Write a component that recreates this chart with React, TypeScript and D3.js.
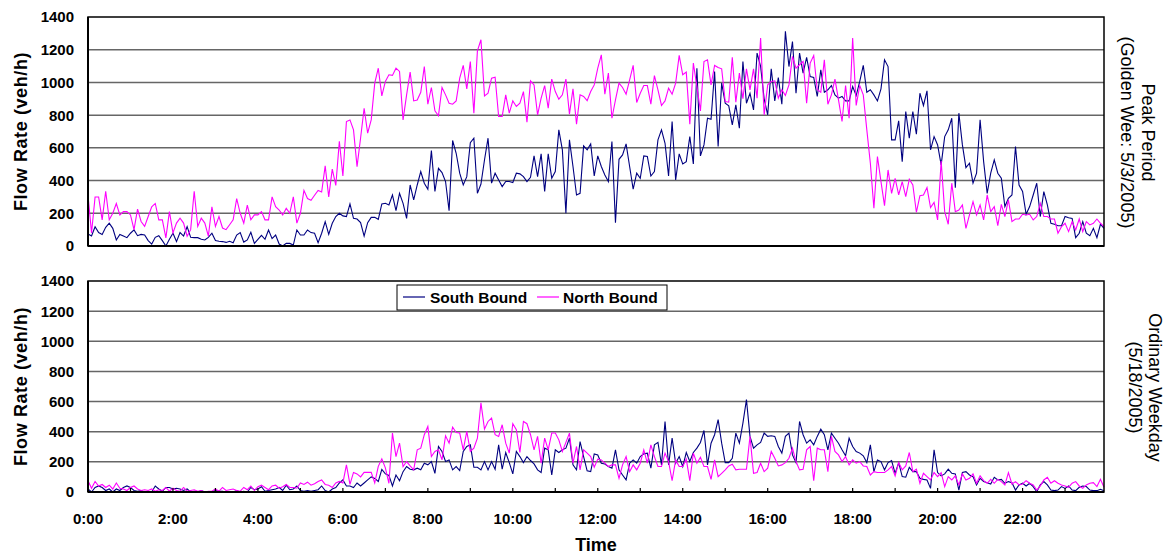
import React from 'react';
import * as d3 from 'd3';

// 5-minute counts, 12 values per hour (0:00 .. 23:55)
const peakSouth = [
  73, 61, 118, 82, 71, 114, 139, 108, 37, 71, 61, 51,
  78, 98, 63, 71, 67, 33, 12, 53, 63, 33, 0, 41,
  78, 27, 82, 61, 118, 53, 51, 51, 41, 37, 53, 78,
  33, 29, 27, 22, 29, 20, 67, 82, 24, 37, 84, 16,
  41, 65, 41, 98, 45, 67, 12, 0, 16, 16, 6, 98,
  67, 67, 98, 82, 78, 20, 78, 149, 71, 139, 180, 200,
  184, 180, 257, 169, 165, 143, 61, 143, 175, 175, 163, 257,
  261, 251, 312, 216, 322, 261, 169, 373, 282, 373, 455, 384,
  347, 583, 333, 475, 449, 394, 216, 645, 567, 445, 373, 424,
  632, 659, 322, 379, 526, 659, 384, 445, 404, 363, 394, 394,
  388, 445, 441, 424, 394, 420, 551, 424, 563, 333, 563, 414,
  455, 710, 588, 200, 649, 486, 312, 322, 612, 588, 624, 428,
  551, 486, 434, 394, 639, 143, 530, 557, 624, 486, 347, 445,
  414, 551, 547, 428, 455, 649, 710, 628, 428, 761, 404, 563,
  502, 516, 669, 502, 1087, 551, 618, 781, 775, 1067, 608, 996,
  873, 857, 741, 863, 720, 1128, 873, 934, 832, 1179, 1098, 900,
  802, 1083, 887, 1030, 867, 1312, 1097, 1250, 934, 1179, 1057, 1153,
  1036, 1030, 914, 1077, 940, 955, 981, 924, 904, 914, 887, 887,
  975, 920, 1006, 1104, 940, 955, 924, 887, 961, 1138, 1097, 649,
  649, 765, 516, 822, 659, 822, 683, 934, 859, 949, 588, 669,
  618, 496, 669, 710, 781, 357, 812, 618, 479, 506, 384, 445,
  771, 516, 322, 445, 526, 445, 414, 241, 292, 312, 608, 373,
  333, 194, 241, 312, 384, 180, 333, 251, 139, 133, 124, 124,
  180, 173, 169, 51, 78, 149, 78, 63, 108, 51, 133, 108,
];

const peakNorth = [
  310, 80, 300, 300, 160, 335, 160, 200, 260, 190, 210, 210,
  190, 100, 225, 150, 120, 180, 240, 260, 160, 160, 50, 210,
  80, 140, 170, 140, 60, 100, 335, 120, 170, 140, 60, 240,
  120, 180, 110, 100, 130, 160, 290, 200, 140, 250, 160, 190,
  190, 210, 160, 160, 300, 240, 220, 190, 230, 200, 300, 140,
  200, 340, 290, 280, 310, 340, 330, 490, 300, 470, 370, 640,
  428, 761, 771, 710, 485, 660, 842, 690, 771, 996, 1087, 918,
  1006, 1047, 1043, 1087, 1067, 771, 924, 1063, 887, 893, 940, 1097,
  867, 969, 826, 796, 969, 924, 873, 867, 887, 1026, 1104, 961,
  1128, 812, 1193, 1261, 918, 934, 1026, 1032, 792, 792, 924, 812,
  887, 853, 873, 944, 757, 1010, 985, 802, 904, 981, 843, 1020,
  944, 898, 924, 1020, 806, 961, 745, 924, 914, 889, 944, 985,
  1087, 1169, 928, 1057, 781, 893, 996, 969, 928, 1016, 1104, 877,
  934, 981, 981, 867, 1042, 955, 859, 887, 965, 928, 996, 1165,
  1047, 1063, 745, 1118, 975, 826, 1128, 1138, 985, 1104, 1091, 1083,
  883, 879, 1153, 879, 1057, 900, 1083, 955, 1083, 904, 1271, 802,
  985, 1006, 1010, 904, 955, 920, 985, 1159, 1087, 1108, 1128, 873,
  1118, 1165, 955, 940, 1138, 867, 924, 1020, 893, 761, 981, 781,
  1271, 859, 981, 924, 710, 506, 231, 547, 394, 247, 465, 322,
  414, 312, 394, 302, 408, 373, 206, 308, 312, 357, 235, 267,
  159, 520, 210, 133, 384, 210, 220, 251, 108, 190, 271, 190,
  251, 159, 312, 210, 241, 124, 255, 180, 282, 149, 165, 165,
  194, 190, 194, 159, 180, 261, 180, 180, 165, 165, 78, 118,
  139, 88, 149, 98, 165, 88, 149, 129, 139, 165, 139, 118,
];

const weekdaySouth = [
  20, 0, 30, 40, 30, 10, 20, 0, 20, 10, 30, 40,
  30, 10, 5, 10, 0, 5, 0, 40, 20, 5, 30, 30,
  20, 25, 20, 10, 20, 0, 5, 0, 10, 0, 0, 0,
  10, 5, 5, 0, 0, 0, 10, 0, 5, 0, 30, 15,
  20, 35, 5, 10, 15, 20, 30, 10, 45, 15, 20, 40,
  10, 5, 10, 5, 10, 15, 40, 10, 0, 20, 30, 60,
  80, 40, 40, 30, 60, 40, 60, 80, 100, 90, 70, 150,
  120, 110, 40, 113, 75, 135, 169, 151, 147, 158, 147, 191,
  180, 202, 124, 302, 269, 202, 213, 147, 169, 142, 269, 302,
  313, 164, 164, 147, 202, 147, 202, 151, 313, 151, 262, 195,
  120, 269, 235, 195, 235, 209, 186, 147, 129, 291, 280, 113,
  280, 262, 280, 291, 357, 180, 147, 335, 235, 140, 135, 253,
  246, 191, 186, 169, 158, 280, 147, 113, 80, 191, 213, 191,
  235, 253, 258, 158, 313, 329, 180, 468, 180, 357, 191, 235,
  169, 262, 202, 262, 291, 329, 408, 180, 324, 380, 480, 324,
  195, 195, 224, 391, 324, 457, 613, 369, 291, 313, 329, 391,
  369, 373, 369, 302, 258, 369, 391, 246, 195, 468, 380, 324,
  346, 313, 369, 417, 380, 280, 391, 357, 324, 280, 240, 357,
  302, 269, 258, 240, 195, 313, 135, 213, 202, 147, 195, 209,
  124, 195, 102, 98, 164, 135, 135, 91, 84, 80, 24, 280,
  129, 107, 120, 151, 124, 120, 13, 129, 135, 113, 102, 47,
  91, 69, 62, 53, 98, 80, 84, 58, 69, 62, 13, 47,
  58, 40, 58, 36, 2, 47, 69, 47, 13, 9, 13, 36,
  24, 40, 13, 9, 31, 40, 36, 13, 9, 9, 18, 9,
];

const weekdayNorth = [
  75, 25, 70, 40, 50, 30, 45, 20, 60, 25, 20, 10,
  30, 40, 20, 10, 15, 10, 20, 5, 15, 10, 30, 5,
  25, 10, 5, 30, 5, 10, 15, 5, 10, 0, 5, 5,
  20, 5, 30, 10, 15, 20, 10, 5, 30, 15, 40, 10,
  35, 45, 30, 15, 40, 45, 25, 35, 50, 30, 30, 25,
  60, 50, 65, 45, 55, 70, 80, 50, 45, 30, 60, 70,
  60, 180, 50, 130, 120, 100, 130, 130, 130, 60, 170, 220,
  160, 58, 391, 235, 324, 169, 202, 173, 147, 280, 291, 380,
  435, 235, 269, 280, 213, 373, 324, 431, 395, 391, 280, 402,
  269, 291, 357, 591, 417, 468, 490, 380, 369, 446, 324, 258,
  453, 413, 262, 468, 453, 380, 280, 369, 191, 357, 280, 391,
  391, 346, 269, 329, 391, 191, 302, 147, 280, 258, 235, 164,
  218, 213, 191, 169, 180, 180, 91, 180, 235, 135, 180, 147,
  191, 280, 191, 313, 235, 169, 169, 258, 202, 75, 213, 169,
  169, 218, 75, 258, 191, 231, 169, 169, 84, 213, 102, 124,
  147, 173, 184, 147, 151, 151, 151, 369, 124, 129, 191, 135,
  158, 269, 224, 173, 180, 195, 224, 291, 202, 147, 151, 280,
  302, 75, 291, 280, 280, 135, 369, 269, 246, 202, 235, 180,
  213, 191, 202, 173, 169, 113, 135, 129, 129, 129, 147, 169,
  107, 195, 147, 173, 262, 135, 151, 58, 124, 102, 80, 129,
  102, 129, 36, 102, 80, 107, 47, 120, 80, 91, 120, 58,
  107, 75, 58, 84, 58, 84, 69, 47, 129, 53, 69, 47,
  53, 75, 58, 47, 13, 40, 80, 98, 58, 75, 58, 47,
  40, 31, 58, 69, 40, 24, 47, 58, 62, 36, 84, 31,
];

const timeLabels = ['0:00', '2:00', '4:00', '6:00', '8:00', '10:00', '12:00', '14:00', '16:00', '18:00', '20:00', '22:00'];
const yTicks = [0, 200, 400, 600, 800, 1000, 1200, 1400];
const seriesNames = ['South Bound', 'North Bound'];
const seriesColors = ['#000080', '#ff00ff'];

const FONT = '"Liberation Sans", Arial, sans-serif';
const W = 1168;
const H = 554;
const x0 = 88;
const x1 = 1104;
const slots = 288; // 5-minute slots per day

const x = d3.scaleLinear().domain([0, slots - 1]).range([x0, x1]);

type PanelProps = {
  top: number;
  bottom: number;
  south: number[];
  north: number[];
  label: string[];
  labelX: number[];
  showTicks: boolean;
};

function Panel({ top, bottom, south, north, label, labelX, showTicks }: PanelProps) {
  const y = d3.scaleLinear().domain([0, 1400]).range([bottom, top]);
  const line = d3.line<number>().x((d, i) => x(i)).y(d => y(d));
  const mid = (top + bottom) / 2;
  const hourTicks = d3.range(12, slots, 12);

  return (
    <g>
      {yTicks.slice(1, -1).map(t => (
        <line key={t} x1={x0} x2={x1} y1={y(t)} y2={y(t)} stroke="#666" strokeWidth={1.5} />
      ))}
      <path d={line(south) || ''} fill="none" stroke={seriesColors[0]} strokeWidth={1.1} />
      <path d={line(north) || ''} fill="none" stroke={seriesColors[1]} strokeWidth={1.1} />
      <rect x={x0} y={top} width={x1 - x0} height={bottom - top} fill="none" stroke="#000" strokeWidth={1.5} />
      <line x1={x0} x2={x0} y1={top} y2={bottom} stroke="#000" strokeWidth={2} />
      <line x1={x0} x2={x1} y1={bottom} y2={bottom} stroke="#000" strokeWidth={2.2} />
      {showTicks && hourTicks.map(i => (
        <line key={i} x1={x(i)} x2={x(i)} y1={bottom} y2={bottom - 4} stroke="#000" strokeWidth={1.2} />
      ))}
      {yTicks.map(t => (
        <text key={t} x={74} y={y(t)} dy="0.36em" textAnchor="end" fontFamily={FONT}
          fontWeight="bold" fontSize={15}>{t}</text>
      ))}
      <text transform={`translate(27,${mid}) rotate(-90)`} textAnchor="middle" fontFamily={FONT}
        fontWeight="bold" fontSize={18} letterSpacing={0.6}>Flow Rate (veh/h)</text>
      {label.map((s, k) => (
        <text key={k} transform={`translate(${labelX[k]},${mid + 1}) rotate(90)`} textAnchor="middle"
          dominantBaseline="central" fontFamily={FONT} fontSize={18}>{s}</text>
      ))}
    </g>
  );
}

export default function App() {
  const bottomTop = 281;
  const bottomBottom = 492;
  return (
    <svg width={W} height={H} style={{ position: 'absolute', left: 0, top: 0, background: '#fff' }}>
      <rect width={W} height={H} fill="#fff" />
      <Panel top={17} bottom={246} south={peakSouth} north={peakNorth}
        label={['Peak Period', '(Golden Wee: 5/3/2005)']} labelX={[1148, 1127]} showTicks={false} />
      <Panel top={bottomTop} bottom={bottomBottom} south={weekdaySouth} north={weekdayNorth}
        label={['Ordinary Weekday', '(5/18/2005)']} labelX={[1155, 1135]} showTicks={true} />
      {timeLabels.map((t, k) => (
        <text key={t} x={x(k * 24)} y={524} textAnchor="middle" fontFamily={FONT}
          fontWeight="bold" fontSize={15}>{t}</text>
      ))}
      <text x={(x0 + x1) / 2} y={551} textAnchor="middle" fontFamily={FONT} fontWeight="bold" fontSize={18}>Time</text>
      <g>
        <rect x={397} y={285} width={270} height={25} fill="#fff" stroke="#000" strokeWidth={1} />
        {seriesNames.map((n, k) => (
          <g key={n}>
            <line x1={403 + k * 134} x2={425 + k * 134} y1={297} y2={297} stroke={seriesColors[k]} strokeWidth={1.2} />
            <text x={430 + k * 133} y={303} fontFamily={FONT} fontWeight="bold" fontSize={15.5}>{n}</text>
          </g>
        ))}
      </g>
    </svg>
  );
}
